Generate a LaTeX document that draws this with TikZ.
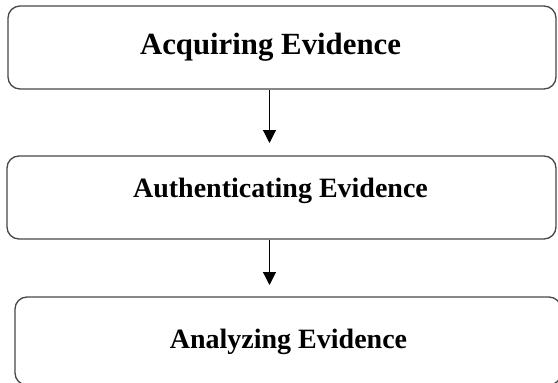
\documentclass[tikz,border=0pt]{standalone}
\usepackage{fontspec}
\setmainfont{Liberation Serif}
\usetikzlibrary{arrows.meta}
\tikzset{
  stagebox/.style={draw=black!72, line width=1.3pt, rounded corners=12pt, inner sep=0pt},
  stagetext/.style={anchor=base, inner sep=0pt, font=\bfseries},
  flowarrow/.style={draw=black, line width=1.1pt, -{Triangle[width=13pt,length=13pt]}}
}
\begin{document}
\begin{tikzpicture}[x=1pt,y=-1pt]
\clip (0,0) rectangle (558,383);
\useasboundingbox (0,0) rectangle (558,383);
\fill[white] (0,0) rectangle (558,383);
\node[stagebox, minimum width=548pt, minimum height=83pt] (b1) at (282,47.5) {};
\node[stagebox, minimum width=549pt, minimum height=83pt] (b2) at (281.5,197.5) {};
\node[stagebox, minimum width=546pt, minimum height=88pt] (b3) at (288,341) {};
\node[stagetext, font=\fontsize{30.8}{36}\selectfont\bfseries] (t1) at (270.5,54) {Acquiring Evidence};
\node[stagetext, font=\fontsize{28}{34}\selectfont\bfseries] (t2) at (280.5,197) {Authenticating Evidence};
\node[stagetext, font=\fontsize{28}{34}\selectfont\bfseries] (t3) at (288.5,348) {Analyzing Evidence};
\coordinate (a1) at (269.5,143);
\coordinate (a2) at (269.5,285);
\draw[flowarrow] (a1 |- b1.south) -- (a1);
\draw[flowarrow] (a2 |- b2.south) -- (a2);
\end{tikzpicture}
\end{document}
